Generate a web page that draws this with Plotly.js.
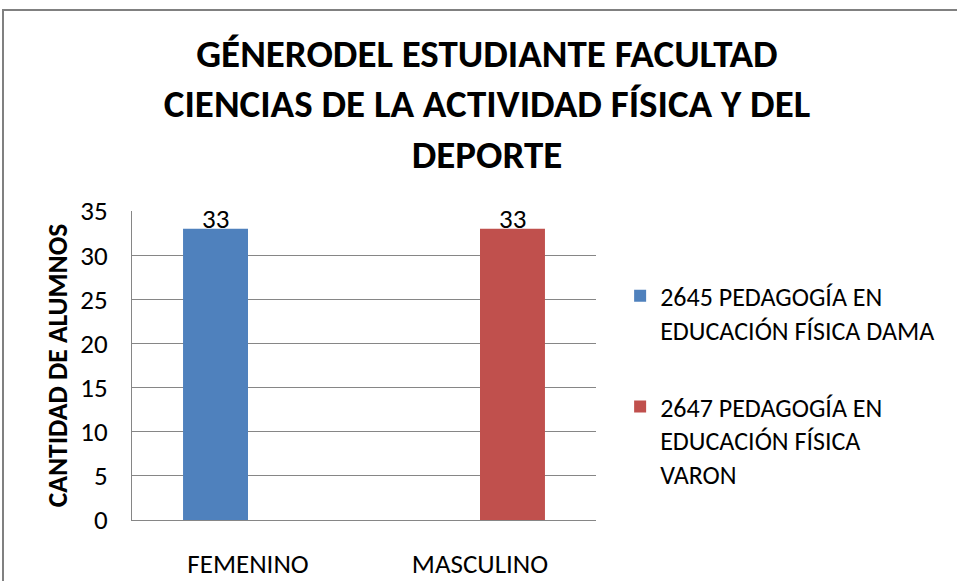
<!DOCTYPE html>
<html>
<head>
<meta charset="utf-8">
<script src="https://cdn.plot.ly/plotly-3.0.1.min.js"></script>
<style>
  html, body { margin: 0; padding: 0; background: #fff; overflow: hidden; }
  #chart { position: absolute; left: 0; top: 0; width: 957px; height: 581px; }
  #frame { position: absolute; left: 2px; top: 9px; width: 1200px; height: 1200px;
           border: 2px solid #808080; pointer-events: none; }
</style>
</head>
<body>
<div id="chart"></div>
<div id="frame"></div>
<script>
const categories = ["FEMENINO", "MASCULINO"];
const seriesNames = [
  "2645 PEDAGOGÍA EN<br>EDUCACIÓN FÍSICA DAMA",
  "2647 PEDAGOGÍA EN<br>EDUCACIÓN FÍSICA<br>VARON"
];
const damaValues = [33, 0];
const varonValues = [0, 33];
const seriesColors = ["#4F81BD", "#C0504D"];
const yTicks = [0, 5, 10, 15, 20, 25, 30, 35];
const titleText = "GÉNERODEL ESTUDIANTE FACULTAD<br>CIENCIAS DE LA ACTIVIDAD FÍSICA Y DEL<br>DEPORTE";
const yTitle = "CANTIDAD DE ALUMNOS";

const FONT = "Calibri, Carlito, 'Liberation Sans Narrow', 'Liberation Sans', Arial, sans-serif";
const W = 957, H = 581;
const M = { l: 132, r: 361, t: 211, b: 61, pad: 0 };
const BARGAP = 0.44;
const allSeries = [damaValues, varonValues];

const traces = allSeries.map((vals, s) => ({
  type: "bar", x: categories, y: vals, name: seriesNames[s],
  legendgroup: "g" + s,
  marker: { color: seriesColors[s] },
  hoverinfo: "x+y"
}));

// data labels (Excel style: baseline sitting on the bar top), only non-zero values
const plotW = W - M.l - M.r;
const band = plotW / categories.length;
const barW = band * (1 - BARGAP) / allSeries.length;
const annotations = [];
allSeries.forEach((vals, s) => {
  vals.forEach((v, i) => {
    if (!v) return;
    annotations.push({
      xref: "x", yref: "y", x: categories[i], y: v,
      text: String(v), showarrow: false,
      xanchor: "center", yanchor: "bottom",
      xshift: (s - (allSeries.length - 1) / 2) * barW, yshift: -8,
      font: { family: FONT, size: 27, color: "#000" }
    });
  });
});

const layout = {
  width: W, height: H,
  margin: M,
  paper_bgcolor: "#fff", plot_bgcolor: "#fff",
  font: { family: FONT, size: 27, color: "#000" },
  barmode: "group", bargap: BARGAP, bargroupgap: 0,
  title: {
    text: titleText,
    font: { family: FONT, size: 39, color: "#000", weight: "bold" },
    xref: "container", x: 487 / W, xanchor: "center",
    yref: "container", y: 1 - 66.5 / H, yanchor: "middle"
  },
  xaxis: {
    type: "category", range: [-0.5, 1.5],
    showgrid: false, zeroline: false,
    showline: true, linecolor: "#868686", linewidth: 1,
    ticks: "", ticklabelstandoff: 20,
    tickfont: { family: FONT, size: 27, color: "#000" }
  },
  yaxis: {
    range: [0, 35], tickvals: yTicks, ticktext: yTicks.map(String),
    showgrid: true, gridcolor: "#868686", gridwidth: 1,
    zeroline: false, showline: true, linecolor: "#868686", linewidth: 1,
    ticks: "", ticklabelstandoff: 18,
    tickfont: { family: FONT, size: 27, color: "#000" },
    title: { text: yTitle, font: { family: FONT, size: 27.5, color: "#000", weight: "bold" }, standoff: 4 }
  },
  annotations: annotations,
  showlegend: true,
  legend: {
    x: 1.052, xanchor: "left", y: 0.437, yanchor: "middle",
    traceorder: "grouped", tracegroupgap: 40, valign: "top",
    font: { family: FONT, size: 26, color: "#000" },
    bgcolor: "rgba(0,0,0,0)", borderwidth: 0
  }
};

Plotly.newPlot("chart", traces, layout, { displayModeBar: false, staticPlot: true });
</script>
</body>
</html>
